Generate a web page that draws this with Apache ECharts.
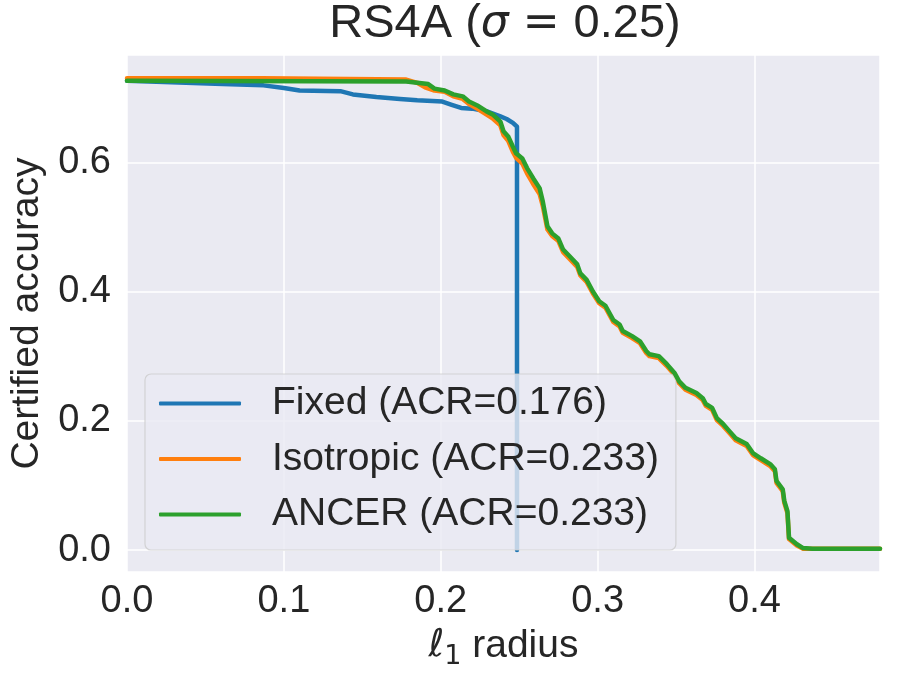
<!DOCTYPE html>
<html>
<head>
<meta charset="utf-8">
<style>
  html, body { margin: 0; padding: 0; background: #fff; }
  #chart { width: 899px; height: 675px; }
</style>
<script src="https://cdn.jsdelivr.net/npm/echarts@6/dist/echarts.min.js"></script>
</head>
<body>
<div id="chart"></div>
<script>
// [radius, certified accuracy]
var fixedPts = [
  [0, 0.726], [0.061, 0.721], [0.087, 0.719], [0.100, 0.715], [0.110, 0.711],
  [0.136, 0.710], [0.144, 0.705], [0.159, 0.701], [0.174, 0.698], [0.185, 0.696],
  [0.201, 0.694], [0.207, 0.689], [0.213, 0.684], [0.220, 0.683], [0.229, 0.679],
  [0.238, 0.671], [0.242, 0.667], [0.246, 0.661], [0.2486, 0.655], [0.2486, 0.0]
];
var isoPts = [
  [0, 0.730], [0.086, 0.730], [0.087, 0.728], [0.178, 0.728], [0.185, 0.723],
  [0.190, 0.716], [0.196, 0.711], [0.2025, 0.709], [0.208, 0.702], [0.214, 0.698],
  [0.218, 0.690], [0.224, 0.682], [0.229, 0.674], [0.233, 0.668], [0.238, 0.657],
  [0.240, 0.642], [0.243, 0.633], [0.246, 0.616], [0.248, 0.607], [0.252, 0.598],
  [0.255, 0.583], [0.259, 0.566], [0.263, 0.551], [0.265, 0.533], [0.268, 0.496],
  [0.271, 0.486], [0.275, 0.478], [0.278, 0.461], [0.282, 0.451], [0.287, 0.438],
  [0.289, 0.425], [0.293, 0.415], [0.297, 0.397], [0.301, 0.382], [0.305, 0.375],
  [0.310, 0.353], [0.314, 0.346], [0.316, 0.336], [0.322, 0.328], [0.327, 0.320],
  [0.331, 0.305], [0.333, 0.300], [0.339, 0.297], [0.344, 0.285], [0.349, 0.271],
  [0.352, 0.258], [0.356, 0.248], [0.363, 0.240], [0.367, 0.232], [0.369, 0.223],
  [0.373, 0.217], [0.376, 0.201], [0.380, 0.192], [0.384, 0.181], [0.388, 0.170],
  [0.395, 0.161], [0.399, 0.147], [0.404, 0.139], [0.410, 0.130], [0.413, 0.122],
  [0.414, 0.104], [0.418, 0.091], [0.419, 0.073], [0.421, 0.057], [0.422, 0.017],
  [0.427, 0.007], [0.431, 0.002], [0.437, 0.002], [0.480, 0.002]
];
var ancerPts = [
  [0, 0.726], [0.178, 0.725], [0.185, 0.723], [0.192, 0.721], [0.196, 0.714],
  [0.2025, 0.711], [0.208, 0.705], [0.214, 0.702], [0.218, 0.694], [0.224, 0.687],
  [0.229, 0.679], [0.233, 0.674], [0.238, 0.663], [0.240, 0.648], [0.243, 0.640],
  [0.246, 0.624], [0.248, 0.614], [0.252, 0.606], [0.255, 0.591], [0.259, 0.575],
  [0.263, 0.560], [0.265, 0.540], [0.268, 0.501], [0.271, 0.490], [0.275, 0.482],
  [0.278, 0.465], [0.282, 0.455], [0.287, 0.442], [0.289, 0.428], [0.293, 0.418],
  [0.297, 0.400], [0.301, 0.385], [0.305, 0.378], [0.310, 0.356], [0.314, 0.349],
  [0.316, 0.339], [0.322, 0.331], [0.327, 0.323], [0.331, 0.308], [0.333, 0.303],
  [0.339, 0.300], [0.344, 0.288], [0.349, 0.274], [0.352, 0.261], [0.356, 0.251],
  [0.363, 0.243], [0.367, 0.235], [0.369, 0.226], [0.373, 0.220], [0.376, 0.204],
  [0.380, 0.195], [0.384, 0.184], [0.388, 0.173], [0.395, 0.164], [0.399, 0.150],
  [0.404, 0.142], [0.410, 0.133], [0.413, 0.125], [0.414, 0.107], [0.418, 0.094],
  [0.419, 0.076], [0.421, 0.060], [0.422, 0.019], [0.427, 0.009], [0.431, 0.003],
  [0.437, 0.002], [0.480, 0.002]
];
var seriesNames = ['Fixed (ACR=0.176)', 'Isotropic (ACR=0.233)', 'ANCER (ACR=0.233)'];
var seriesColors = ['#1f77b4', '#ff7f0e', '#2ca02c'];

var FONT = '"Liberation Sans", Arial, sans-serif';
var INK = '#262626';

var chart = echarts.init(document.getElementById('chart'), null, { renderer: 'canvas' });

function lineSeries(i, pts) {
  return {
    name: seriesNames[i],
    type: 'line',
    data: pts,
    showSymbol: false,
    symbol: 'none',
    animation: false,
    lineStyle: { color: seriesColors[i], width: 4.5, cap: 'round', join: 'round' },
    itemStyle: { color: seriesColors[i] },
    z: 2 + i
  };
}

chart.setOption({
  animation: false,
  title: {
    text: '{n|RS4A (}{i|σ}{m| = }{n|0.25)}',
    left: 500, textAlign: 'center',
    top: -4,
    textStyle: {
      fontWeight: 'normal',
      rich: {
        n: { fontFamily: FONT, fontSize: 47, fontWeight: 'normal', color: INK },
        i: { fontFamily: '"DejaVu Sans"', fontStyle: 'italic', fontWeight: 'normal', fontSize: 44, color: INK },
        m: { fontFamily: '"DejaVu Sans"', fontWeight: 'normal', fontSize: 44, color: INK }
      }
    }
  },
  grid: {
    left: 127, right: 19, top: 55, bottom: 103,
    outerBoundsMode: 'none',
    show: true, backgroundColor: '#EAEAF2', borderWidth: 0
  },
  legend: {
    orient: 'vertical',
    left: 145, top: 374,
    padding: [10, 17, 16, 14],
    itemGap: 16.5,
    itemWidth: 82, itemHeight: 4,
    icon: 'roundRect',
    backgroundColor: 'rgba(234,234,242,0.8)',
    borderColor: 'rgba(204,204,204,0.8)', borderWidth: 1.2, borderRadius: 6,
    data: seriesNames,
    formatter: function (name) { return '{a|' + name + '}'; },
    textStyle: {
      rich: {
        a: { fontFamily: FONT, fontSize: 39, lineHeight: 40, color: INK, padding: [0, 0, 0, 26] }
      }
    }
  },
  xAxis: {
    type: 'value',
    min: 0, max: 0.48, interval: 0.1,
    name: '{i|ℓ}{s|1}{n| radius}',
    nameLocation: 'middle',
    nameGap: 51,
    nameTextStyle: {
      rich: {
        i: { fontFamily: '"DejaVu Sans"', fontStyle: 'italic', fontSize: 38, color: INK },
        s: { fontFamily: '"DejaVu Sans"', fontSize: 27, color: INK, padding: [20, 0, 0, 0] },
        n: { fontFamily: FONT, fontSize: 39, color: INK }
      }
    },
    axisLine: { show: false },
    axisTick: { show: false },
    axisLabel: {
      margin: 11, fontFamily: FONT, fontSize: 38, color: INK,
      showMaxLabel: false,
      formatter: function (v) { return v.toFixed(1); }
    },
    splitLine: { show: true, lineStyle: { color: '#ffffff', width: 1.5 } }
  },
  yAxis: {
    type: 'value',
    min: -0.034, max: 0.766, splitNumber: 4,
    name: 'Certified accuracy',
    nameLocation: 'middle',
    nameGap: 80,
    nameTextStyle: { fontFamily: FONT, fontSize: 39, color: INK },
    axisLine: { show: false },
    axisTick: { show: false },
    axisLabel: {
      margin: 16, fontFamily: FONT, fontSize: 38, color: INK,
      showMinLabel: false, showMaxLabel: false,
      formatter: function (v) { return v.toFixed(1); }
    },
    splitLine: { show: true, lineStyle: { color: '#ffffff', width: 1.5 } }
  },
  series: [
    lineSeries(0, fixedPts),
    lineSeries(1, isoPts),
    lineSeries(2, ancerPts)
  ]
});
</script>
</body>
</html>
